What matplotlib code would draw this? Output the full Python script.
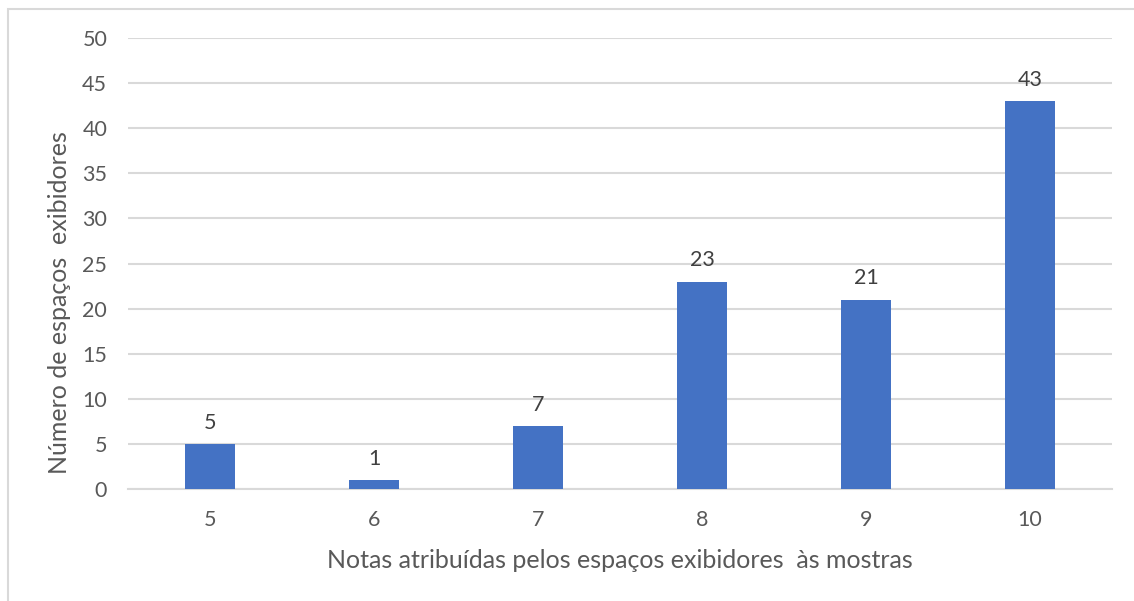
import matplotlib
matplotlib.use("Agg")
import matplotlib.pyplot as plt
from matplotlib.patches import Rectangle

notas = ["5", "6", "7", "8", "9", "10"]
espacos = [5, 1, 7, 23, 21, 43]
y_ticks = [0, 5, 10, 15, 20, 25, 30, 35, 40, 45, 50]

bar_color = "#4472C4"
grid_color = "#D9D9D9"
text_color = "#595959"

plt.rcParams["font.family"] = ["Lato", "DejaVu Sans"]

W, H = 1134, 601
fig = plt.figure(figsize=(W / 100, H / 100), dpi=100)
fig.patch.set_facecolor("white")

# outer chart-area frame (partly running off the right and bottom edges)
fig.patches.append(Rectangle((8 / W, -0.05), 1.2, 1 - 9 / H + 0.05,
                             transform=fig.transFigure, fill=False,
                             edgecolor=grid_color, linewidth=1.5, clip_on=False))

ax = fig.add_axes([128 / W, 1 - 489 / H, (1112 - 128) / W, (489 - 38) / H])
x = range(len(notas))
bars = ax.bar(x, espacos, width=0.31, color=bar_color, zorder=3)

for xi, v in zip(x, espacos):
    ax.annotate(str(v), (xi, v), xytext=(0, 8), textcoords="offset points",
                ha="center", va="bottom", fontsize=15.5, color="#404040")

ax.set_xlim(-0.5, len(notas) - 0.5)
ax.set_ylim(0, 50)
ax.set_yticks(y_ticks)
ax.set_xticks(list(x))
ax.set_xticklabels(notas)
ax.yaxis.grid(True, color=grid_color, linewidth=1.5, zorder=0)
ax.set_axisbelow(True)
for s in ["top", "right", "left"]:
    ax.spines[s].set_visible(False)
ax.spines["bottom"].set_color(grid_color)
ax.spines["bottom"].set_linewidth(1.5)
ax.tick_params(axis="both", length=0, labelsize=15.5, labelcolor=text_color)
ax.tick_params(axis="y", pad=15)
ax.tick_params(axis="x", pad=15)

fig.text(620 / W, 1 - 561 / H, "Notas atribuídas pelos espaços exibidores  às mostras",
         ha="center", va="center", fontsize=18, color=text_color)
fig.text(60 / W, 1 - 303 / H, "Número de espaços  exibidores", rotation=90,
         ha="center", va="center", fontsize=18, color=text_color)

fig.savefig("out.png", dpi=100, facecolor="white")
